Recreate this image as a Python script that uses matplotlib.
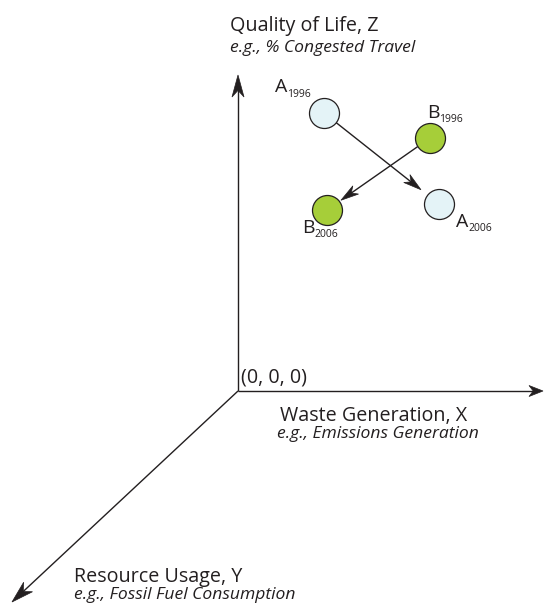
import numpy as np
import matplotlib
matplotlib.use("Agg")
import matplotlib.pyplot as plt
from matplotlib.patches import Polygon

# ---- data (chart units: origin at (0,0); X to the right, Z up, Y toward viewer) ----
axis_names = ["Waste Generation, X", "Resource Usage, Y", "Quality of Life, Z"]
axis_examples = ["e.g., Emissions Generation", "e.g., Fossil Fuel Consumption",
                 "e.g., % Congested Travel"]
origin_label = "(0, 0, 0)"
# axis end points (x, z) in drawing units
x_axis_end = (305, 0)
y_axis_end = (-226, -211)
z_axis_end = (0, 316)

entities = ["A", "A", "B", "B"]
years = ["1996", "2006", "1996", "2006"]
pos_x = [86, 201, 192, 89]
pos_z = [278, 187, 253, 181]

colors = {"A": "#E4F3F7", "B": "#A6CE39"}
INK = "#231F20"

plt.rcParams["font.family"] = ["Open Sans", "DejaVu Sans"]

fig = plt.figure(figsize=(5.44, 6.04), dpi=100)
ax = fig.add_axes([0, 0, 1, 1])
ax.set_xlim(-238, 306)
ax.set_ylim(-213, 391)
ax.set_aspect("equal")
ax.axis("off")


def arrow(p0, p1, shrink0=0.0, shrink1=0.0, hl=18, hw=11, notch=0.3, lw=1.0, z=2):
    p0 = np.asarray(p0, float)
    p1 = np.asarray(p1, float)
    d = p1 - p0
    d /= np.hypot(*d)
    n = np.array([-d[1], d[0]])
    start = p0 + d * shrink0
    tip = p1 - d * shrink1
    base = tip - d * hl
    inner = tip - d * hl * (1 - notch)
    ax.plot([start[0], inner[0] + d[0] * 2], [start[1], inner[1] + d[1] * 2],
            color=INK, lw=lw, solid_capstyle="butt", zorder=z)
    head = [tip, base + n * hw / 2, inner, base - n * hw / 2]
    ax.add_patch(Polygon(head, closed=True, facecolor=INK, edgecolor=INK,
                         lw=0.5, zorder=z))


# axes
arrow((0, 0), x_axis_end, hl=14, hw=11)
arrow((0, 0), z_axis_end, hl=22, hw=12)
arrow((0, 0), y_axis_end, hl=22, hw=13)

# movement arrows between years
for ent, sh1 in (("A", 23), ("B", 17)):
    idx = [i for i, e in enumerate(entities) if e == ent]
    i0 = [i for i in idx if years[i] == "1996"][0]
    i1 = [i for i in idx if years[i] == "2006"][0]
    arrow((pos_x[i0], pos_z[i0]), (pos_x[i1], pos_z[i1]), shrink0=15, shrink1=sh1,
          hl=18, hw=10, notch=0.3, lw=1.0, z=2)

# circles
for ent, yr, x, z in zip(entities, years, pos_x, pos_z):
    ax.scatter([x], [z], s=(30 * 0.72) ** 2, color=colors[ent], edgecolor=INK,
               linewidth=0.9, zorder=3)

# circle labels with subscript years (offsets in drawing units)
label_off = {("A", "1996"): (-49, 20.5), ("B", "1996"): (-3, 20),
             ("A", "2006"): (17.5, -23), ("B", "2006"): (-25, -23)}
for ent, yr, x, z in zip(entities, years, pos_x, pos_z):
    dx, dz = label_off[(ent, yr)]
    t = ax.text(x + dx, z + dz, ent, fontsize=14, color=INK, ha="left",
                va="baseline", zorder=4)
    ax.annotate(yr, xy=(1, 0), xycoords=t, xytext=(-0.3, -2.2),
                textcoords="offset points", fontsize=7.5, color=INK,
                ha="left", va="bottom")

# axis titles: (text, x, z, italic, target width in px)
title_specs = [
    (axis_names[2], -8, 360, False, 175),
    (axis_examples[2], -8, 339, True, 227),
    (axis_names[0], 42, -30, False, 217),
    (axis_examples[0], 39, -47, True, 241),
    (axis_names[1], -164, -191, False, 193),
    (axis_examples[1], -164, -208, True, 294),
    (origin_label, 3, 8, False, 76),
]
texts = []
for s, x, z, it, w in title_specs:
    t = ax.text(x, z, s, fontsize=14, color=INK, ha="left", va="baseline",
                style="italic" if it else "normal")
    texts.append((t, w, 12.6 if it else 14.2))

# fit each title towards the width it occupies in the reference (size capped)
for _ in range(2):
    fig.canvas.draw()
    r = fig.canvas.get_renderer()
    for t, w, cap in texts:
        cur = t.get_window_extent(r).width
        t.set_fontsize(min(cap, t.get_fontsize() * w / cur))

fig.savefig("out.png", dpi=100)
